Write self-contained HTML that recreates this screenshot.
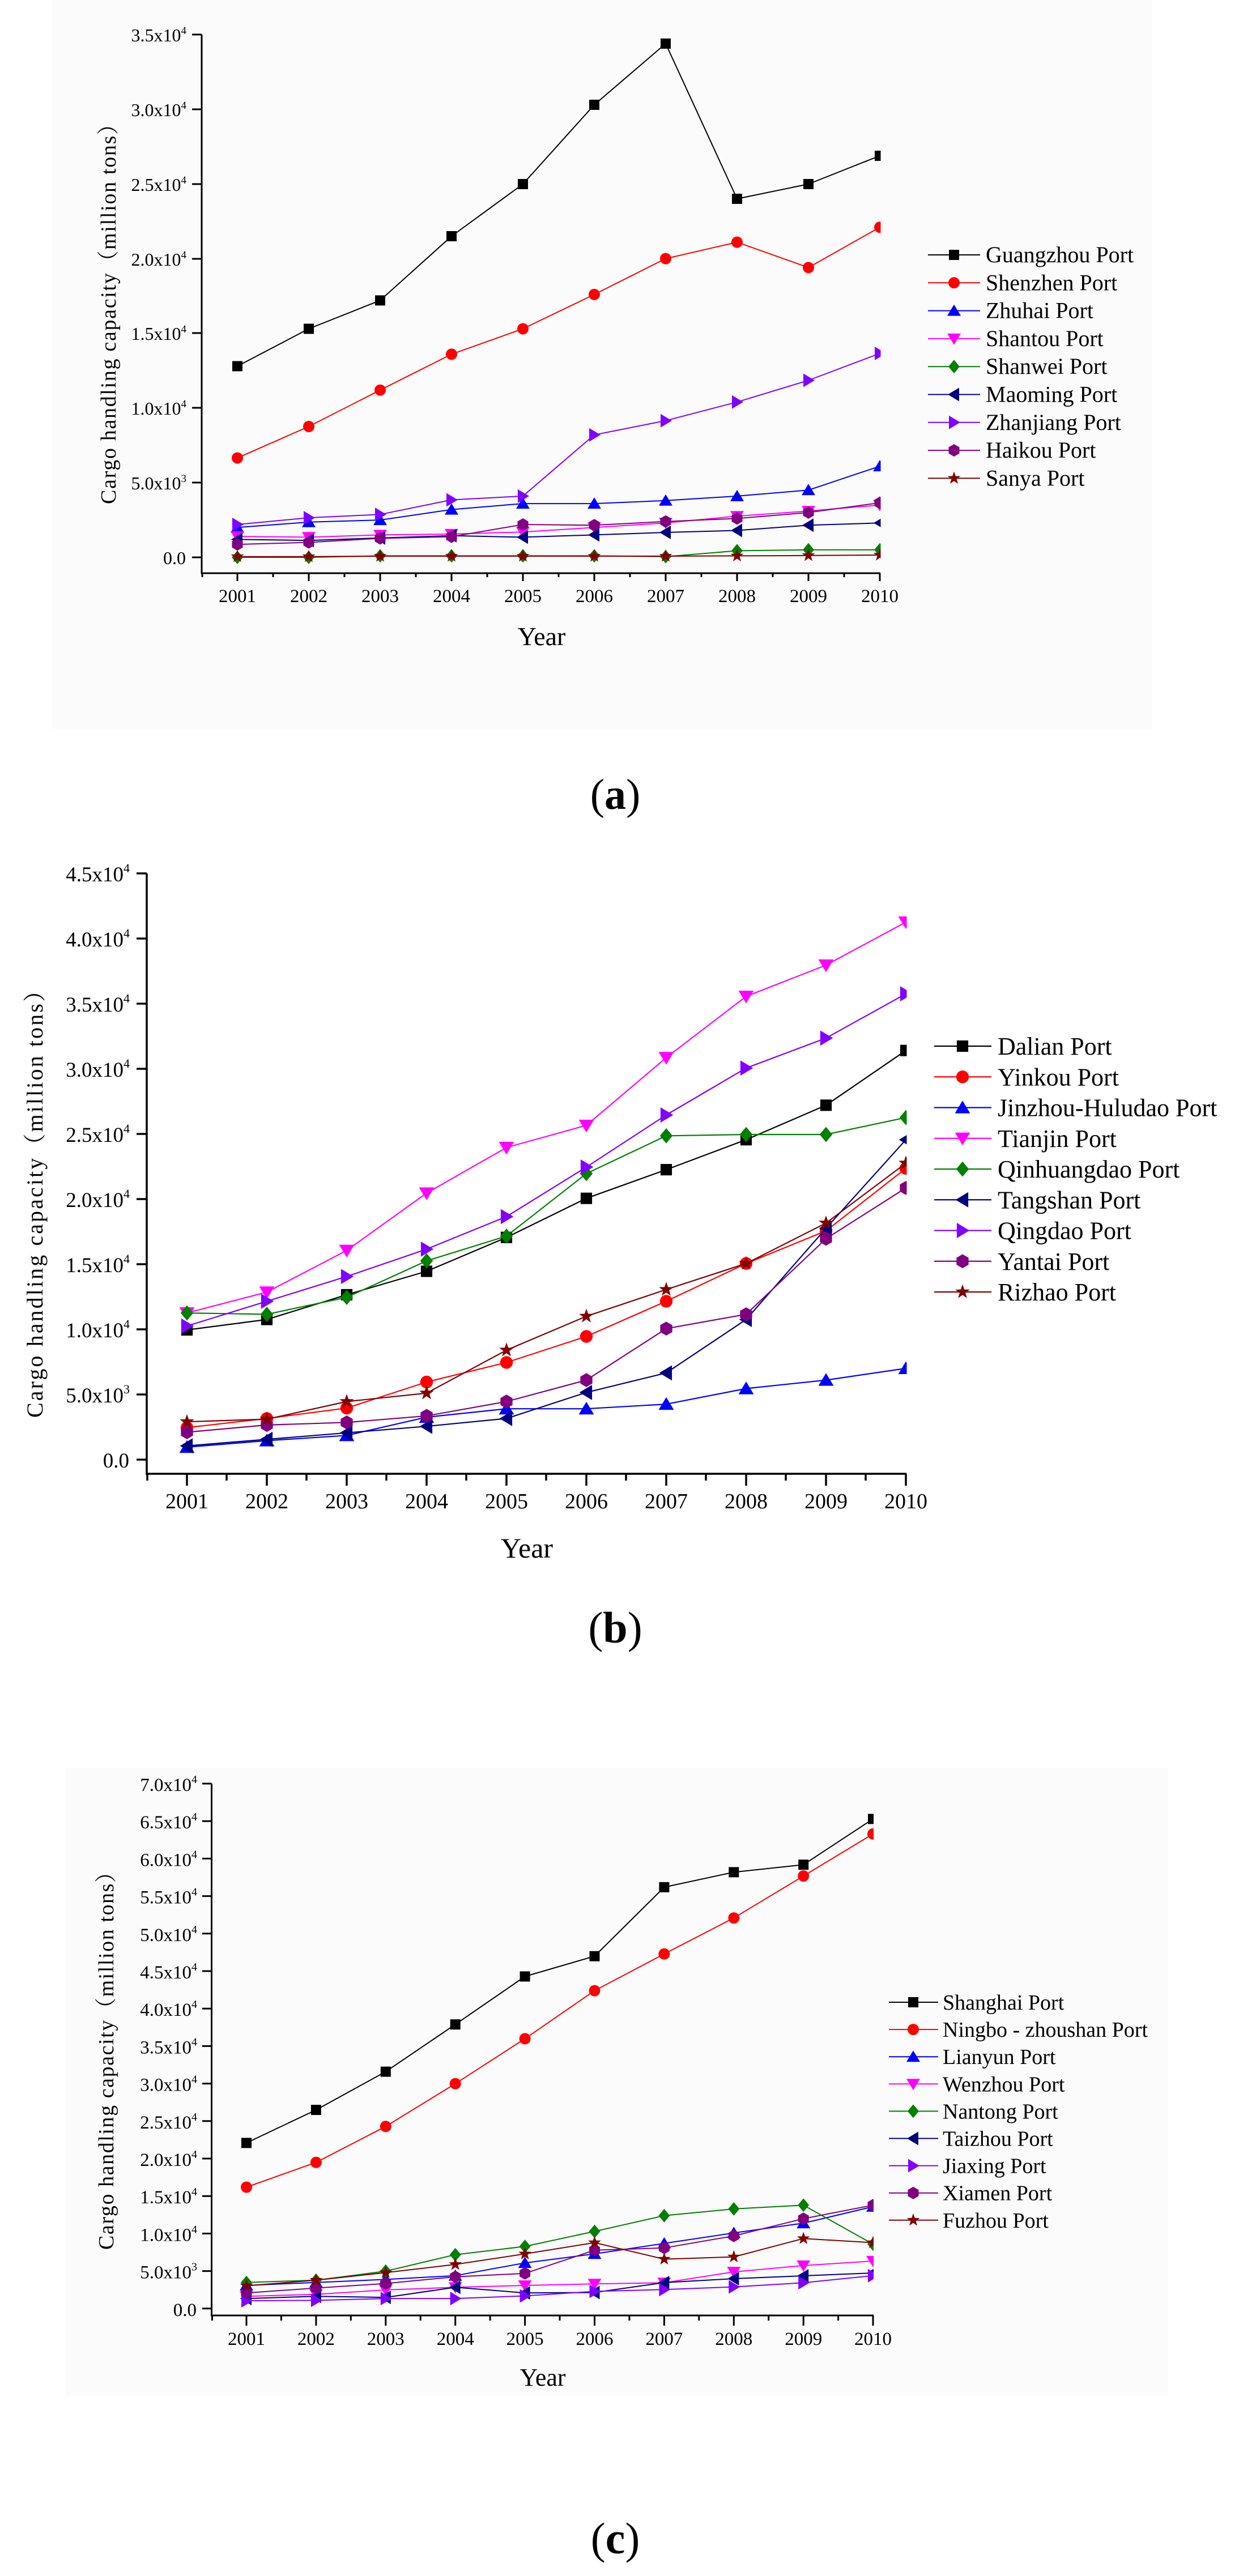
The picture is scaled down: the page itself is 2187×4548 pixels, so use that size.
<!DOCTYPE html>
<html>
<head>
<meta charset="utf-8">
<style>
html,body{margin:0;padding:0;background:#fff;}
svg{display:block;}
</style>
</head>
<body>
<svg xmlns="http://www.w3.org/2000/svg" xmlns:xlink="http://www.w3.org/1999/xlink" width="2187" height="4548" viewBox="0 0 2187 4548" font-family="'Liberation Serif','Noto Serif CJK SC',serif">
<defs>
<rect id="sq" x="-9" y="-9" width="18" height="18"/>
<circle id="ci" r="10"/>
<polygon id="tu" points="0,-11 12,9 -12,9"/>
<polygon id="td" points="0,11 12,-9 -12,-9"/>
<polygon id="di" points="0,-12 10,0 0,12 -10,0"/>
<polygon id="tl" points="-11,0 9,-12 9,12"/>
<polygon id="tr" points="11,0 -9,-12 -9,12"/>
<polygon id="hx" points="0,-11 9.5,-5.5 9.5,5.5 0,11 -9.5,5.5 -9.5,-5.5"/>
<polygon id="st" points="0,-12 2.82,-3.88 11.41,-3.71 4.57,1.48 7.05,9.71 0,4.8 -7.05,9.71 -4.57,1.48 -11.41,-3.71 -2.82,-3.88"/>
<g id="sqB" transform="scale(1.12)"><use xlink:href="#sq"/></g>
<g id="ciB" transform="scale(1.12)"><use xlink:href="#ci"/></g>
<g id="tuB" transform="scale(1.12)"><use xlink:href="#tu"/></g>
<g id="tdB" transform="scale(1.12)"><use xlink:href="#td"/></g>
<g id="diB" transform="scale(1.12)"><use xlink:href="#di"/></g>
<g id="tlB" transform="scale(1.12)"><use xlink:href="#tl"/></g>
<g id="trB" transform="scale(1.12)"><use xlink:href="#tr"/></g>
<g id="hxB" transform="scale(1.12)"><use xlink:href="#hx"/></g>
<g id="stB" transform="scale(1.12)"><use xlink:href="#st"/></g>
<clipPath id="ca"><rect x="300" y="0" width="1254.5" height="1012"/></clipPath>
<clipPath id="cb"><rect x="259" y="1500" width="1341.5" height="1102"/></clipPath>
<clipPath id="cc"><rect x="374" y="3100" width="1168" height="988"/></clipPath>
</defs>

<rect x="0" y="0" width="2187" height="4548" fill="#ffffff"/>
<rect x="91" y="0" width="1942" height="1288" fill="#fbfbfb"/>
<rect x="115" y="3122" width="1947" height="1107" fill="#fbfbfb"/>

<!-- ================= CHART (a) ================= -->
<g stroke="#000" stroke-width="3" fill="none">
<path d="M356 61 V1012 H1554"/>
<path d="M339 61H356M339 193H356M339 325H356M339 457H356M339 588H356M339 720H356M339 852H356M339 984H356"/>
<path d="M419 1012V1026M545 1012V1026M671 1012V1026M797 1012V1026M923 1012V1026M1049 1012V1026M1175 1012V1026M1301 1012V1026M1427 1012V1026M1553 1012V1026"/>
<path d="M357 1012V1019M482 1012V1019M608 1012V1019M734 1012V1019M860 1012V1019M986 1012V1019M1112 1012V1019M1238 1012V1019M1364 1012V1019M1490 1012V1019"/>
</g>
<g font-size="32" text-anchor="end" fill="#000">
<text x="329" y="73">3.5x10<tspan dy="-13" font-size="19">4</tspan></text>
<text x="329" y="205">3.0x10<tspan dy="-13" font-size="19">4</tspan></text>
<text x="329" y="337">2.5x10<tspan dy="-13" font-size="19">4</tspan></text>
<text x="329" y="469">2.0x10<tspan dy="-13" font-size="19">4</tspan></text>
<text x="329" y="600">1.5x10<tspan dy="-13" font-size="19">4</tspan></text>
<text x="329" y="732">1.0x10<tspan dy="-13" font-size="19">4</tspan></text>
<text x="329" y="864">5.0x10<tspan dy="-13" font-size="19">3</tspan></text>
<text x="328" y="996">0.0</text>
</g>
<g font-size="33" text-anchor="middle" fill="#000">
<text x="419" y="1063">2001</text><text x="545" y="1063">2002</text><text x="671" y="1063">2003</text><text x="797" y="1063">2004</text><text x="923" y="1063">2005</text><text x="1049" y="1063">2006</text><text x="1175" y="1063">2007</text><text x="1301" y="1063">2008</text><text x="1427" y="1063">2009</text><text x="1553" y="1063">2010</text>
</g>
<text x="956" y="1139" font-size="46" text-anchor="middle">Year</text>
<text transform="translate(204,545) rotate(-90)" text-anchor="middle" font-size="38" textLength="690" lengthAdjust="spacing">Cargo handling capacity（million tons）</text>
<text x="1086" y="1428" font-size="76" text-anchor="middle">(<tspan font-weight="bold">a</tspan>)</text>

<g clip-path="url(#ca)" fill="none" stroke-width="2" stroke-linejoin="round">
<polyline stroke="#000000" points="419,646.5 545,580.5 671,530.4 797,417 923,325 1049,185 1175,77 1301,351 1427,325 1553,275"/>
<g fill="#000000" stroke="none"><use xlink:href="#sq" x="419" y="646.5"/><use xlink:href="#sq" x="545" y="580.5"/><use xlink:href="#sq" x="671" y="530.4"/><use xlink:href="#sq" x="797" y="417"/><use xlink:href="#sq" x="923" y="325"/><use xlink:href="#sq" x="1049" y="185"/><use xlink:href="#sq" x="1175" y="77"/><use xlink:href="#sq" x="1301" y="351"/><use xlink:href="#sq" x="1427" y="325"/><use xlink:href="#sq" x="1553" y="275"/></g>
<polyline stroke="#ff0000" points="419,808.6 545,753 671,688.7 797,625.4 923,580.5 1049,519.9 1175,456.6 1301,427.6 1427,472.4 1553,401.2"/>
<g fill="#ff0000" stroke="none"><use xlink:href="#ci" x="419" y="808.6"/><use xlink:href="#ci" x="545" y="753"/><use xlink:href="#ci" x="671" y="688.7"/><use xlink:href="#ci" x="797" y="625.4"/><use xlink:href="#ci" x="923" y="580.5"/><use xlink:href="#ci" x="1049" y="519.9"/><use xlink:href="#ci" x="1175" y="456.6"/><use xlink:href="#ci" x="1301" y="427.6"/><use xlink:href="#ci" x="1427" y="472.4"/><use xlink:href="#ci" x="1553" y="401.2"/></g>
<polyline stroke="#0000ff" points="419,931.3 545,921.8 671,918.1 797,899.6 923,889.1 1049,889.1 1175,883.8 1301,875.9 1427,865.3 1553,823.1"/>
<g fill="#0000ff" stroke="none"><use xlink:href="#tu" x="419" y="931.3"/><use xlink:href="#tu" x="545" y="921.8"/><use xlink:href="#tu" x="671" y="918.1"/><use xlink:href="#tu" x="797" y="899.6"/><use xlink:href="#tu" x="923" y="889.1"/><use xlink:href="#tu" x="1049" y="889.1"/><use xlink:href="#tu" x="1175" y="883.8"/><use xlink:href="#tu" x="1301" y="875.9"/><use xlink:href="#tu" x="1427" y="865.3"/><use xlink:href="#tu" x="1553" y="823.1"/></g>
<polyline stroke="#ff00ff" points="419,947 545,948.4 671,944.4 797,942.9 923,939.2 1049,931.3 1175,923.3 1301,911.2 1427,902.3 1553,891.7"/>
<g fill="#ff00ff" stroke="none"><use xlink:href="#td" x="419" y="947"/><use xlink:href="#td" x="545" y="948.4"/><use xlink:href="#td" x="671" y="944.4"/><use xlink:href="#td" x="797" y="942.9"/><use xlink:href="#td" x="923" y="939.2"/><use xlink:href="#td" x="1049" y="931.3"/><use xlink:href="#td" x="1175" y="923.3"/><use xlink:href="#td" x="1301" y="911.2"/><use xlink:href="#td" x="1427" y="902.3"/><use xlink:href="#td" x="1553" y="891.7"/></g>
<polyline stroke="#008000" points="419,984 545,984 671,981.4 797,981.4 923,981.4 1049,981.4 1175,982.7 1301,972.4 1427,970.8 1553,970.8"/>
<g fill="#008000" stroke="none"><use xlink:href="#di" x="419" y="984"/><use xlink:href="#di" x="545" y="984"/><use xlink:href="#di" x="671" y="981.4"/><use xlink:href="#di" x="797" y="981.4"/><use xlink:href="#di" x="923" y="981.4"/><use xlink:href="#di" x="1049" y="981.4"/><use xlink:href="#di" x="1175" y="982.7"/><use xlink:href="#di" x="1301" y="972.4"/><use xlink:href="#di" x="1427" y="970.8"/><use xlink:href="#di" x="1553" y="970.8"/></g>
<polyline stroke="#000080" points="419,952.4 545,954.2 671,949.7 797,945.8 923,948.4 1049,944.4 1175,940 1301,936.5 1427,927.3 1553,923.3"/>
<g fill="#000080" stroke="none"><use xlink:href="#tl" x="419" y="952.4"/><use xlink:href="#tl" x="545" y="954.2"/><use xlink:href="#tl" x="671" y="949.7"/><use xlink:href="#tl" x="797" y="945.8"/><use xlink:href="#tl" x="923" y="948.4"/><use xlink:href="#tl" x="1049" y="944.4"/><use xlink:href="#tl" x="1175" y="940"/><use xlink:href="#tl" x="1301" y="936.5"/><use xlink:href="#tl" x="1427" y="927.3"/><use xlink:href="#tl" x="1553" y="923.3"/></g>
<polyline stroke="#8000ff" points="419,926 545,914.1 671,908.3 797,882.5 923,875.9 1049,767.8 1175,742.7 1301,709.8 1427,671.5 1553,624"/>
<g fill="#8000ff" stroke="none"><use xlink:href="#tr" x="419" y="926"/><use xlink:href="#tr" x="545" y="914.1"/><use xlink:href="#tr" x="671" y="908.3"/><use xlink:href="#tr" x="797" y="882.5"/><use xlink:href="#tr" x="923" y="875.9"/><use xlink:href="#tr" x="1049" y="767.8"/><use xlink:href="#tr" x="1175" y="742.7"/><use xlink:href="#tr" x="1301" y="709.8"/><use xlink:href="#tr" x="1427" y="671.5"/><use xlink:href="#tr" x="1553" y="624"/></g>
<polyline stroke="#800080" points="419,961.1 545,957.6 671,950.5 797,947.6 923,926 1049,927.3 1175,920.7 1301,915.4 1427,904.9 1553,887.7"/>
<g fill="#800080" stroke="none"><use xlink:href="#hx" x="419" y="961.1"/><use xlink:href="#hx" x="545" y="957.6"/><use xlink:href="#hx" x="671" y="950.5"/><use xlink:href="#hx" x="797" y="947.6"/><use xlink:href="#hx" x="923" y="926"/><use xlink:href="#hx" x="1049" y="927.3"/><use xlink:href="#hx" x="1175" y="920.7"/><use xlink:href="#hx" x="1301" y="915.4"/><use xlink:href="#hx" x="1427" y="904.9"/><use xlink:href="#hx" x="1553" y="887.7"/></g>
<polyline stroke="#800000" points="419,982.7 545,982.7 671,981.9 797,981.9 923,981.9 1049,981.9 1175,981.9 1301,981.4 1427,980.8 1553,980"/>
<g fill="#800000" stroke="none"><use xlink:href="#st" x="419" y="982.7"/><use xlink:href="#st" x="545" y="982.7"/><use xlink:href="#st" x="671" y="981.9"/><use xlink:href="#st" x="797" y="981.9"/><use xlink:href="#st" x="923" y="981.9"/><use xlink:href="#st" x="1049" y="981.9"/><use xlink:href="#st" x="1175" y="981.9"/><use xlink:href="#st" x="1301" y="981.4"/><use xlink:href="#st" x="1427" y="980.8"/><use xlink:href="#st" x="1553" y="980"/></g>
</g>

<!-- legend (a) -->
<g stroke-width="2">
<line x1="1638" x2="1730" y1="450" y2="450" stroke="#000000"/><use xlink:href="#sq" x="1684" y="450" fill="#000000"/>
<line x1="1638" x2="1730" y1="499.3" y2="499.3" stroke="#ff0000"/><use xlink:href="#ci" x="1684" y="499.3" fill="#ff0000"/>
<line x1="1638" x2="1730" y1="548.6" y2="548.6" stroke="#0000ff"/><use xlink:href="#tu" x="1684" y="548.6" fill="#0000ff"/>
<line x1="1638" x2="1730" y1="597.9" y2="597.9" stroke="#ff00ff"/><use xlink:href="#td" x="1684" y="597.9" fill="#ff00ff"/>
<line x1="1638" x2="1730" y1="647.2" y2="647.2" stroke="#008000"/><use xlink:href="#di" x="1684" y="647.2" fill="#008000"/>
<line x1="1638" x2="1730" y1="696.5" y2="696.5" stroke="#000080"/><use xlink:href="#tl" x="1684" y="696.5" fill="#000080"/>
<line x1="1638" x2="1730" y1="745.8" y2="745.8" stroke="#8000ff"/><use xlink:href="#tr" x="1684" y="745.8" fill="#8000ff"/>
<line x1="1638" x2="1730" y1="795.1" y2="795.1" stroke="#800080"/><use xlink:href="#hx" x="1684" y="795.1" fill="#800080"/>
<line x1="1638" x2="1730" y1="844.4" y2="844.4" stroke="#800000"/><use xlink:href="#st" x="1684" y="844.4" fill="#800000"/>
</g>
<g font-size="40" fill="#000">
<text x="1740" y="463">Guangzhou Port</text>
<text x="1740" y="512.3">Shenzhen Port</text>
<text x="1740" y="561.6">Zhuhai Port</text>
<text x="1740" y="610.9">Shantou Port</text>
<text x="1740" y="660.2">Shanwei Port</text>
<text x="1740" y="709.5">Maoming Port</text>
<text x="1740" y="758.8">Zhanjiang Port</text>
<text x="1740" y="808.1">Haikou Port</text>
<text x="1740" y="857.4">Sanya Port</text>
</g>

<!-- ================= CHART (b) ================= -->
<g stroke="#000" stroke-width="3.5" fill="none">
<path d="M259 1542 V2602 H1600"/>
<path d="M241 1542H259M241 1657H259M241 1772H259M241 1887H259M241 2002H259M241 2117H259M241 2232H259M241 2347H259M241 2462H259M241 2577H259"/>
<path d="M330 2602V2623M471 2602V2623M612 2602V2623M753 2602V2623M894 2602V2623M1035 2602V2623M1176 2602V2623M1317 2602V2623M1458 2602V2623M1599 2602V2623"/>
<path d="M260 2602V2614M400 2602V2614M541 2602V2614M682 2602V2614M823 2602V2614M964 2602V2614M1105 2602V2614M1246 2602V2614M1387 2602V2614M1528 2602V2614"/>
</g>
<g font-size="37" text-anchor="end" fill="#000">
<text x="229" y="1556">4.5x10<tspan dy="-16" font-size="22">4</tspan></text>
<text x="229" y="1671">4.0x10<tspan dy="-16" font-size="22">4</tspan></text>
<text x="229" y="1786">3.5x10<tspan dy="-16" font-size="22">4</tspan></text>
<text x="229" y="1901">3.0x10<tspan dy="-16" font-size="22">4</tspan></text>
<text x="229" y="2016">2.5x10<tspan dy="-16" font-size="22">4</tspan></text>
<text x="229" y="2131">2.0x10<tspan dy="-16" font-size="22">4</tspan></text>
<text x="229" y="2246">1.5x10<tspan dy="-16" font-size="22">4</tspan></text>
<text x="229" y="2361">1.0x10<tspan dy="-16" font-size="22">4</tspan></text>
<text x="229" y="2476">5.0x10<tspan dy="-16" font-size="22">3</tspan></text>
<text x="228" y="2591">0.0</text>
</g>
<g font-size="38" text-anchor="middle" fill="#000">
<text x="330" y="2663">2001</text><text x="471" y="2663">2002</text><text x="612" y="2663">2003</text><text x="753" y="2663">2004</text><text x="894" y="2663">2005</text><text x="1035" y="2663">2006</text><text x="1176" y="2663">2007</text><text x="1317" y="2663">2008</text><text x="1458" y="2663">2009</text><text x="1599" y="2663">2010</text>
</g>
<text x="930" y="2750" font-size="50" text-anchor="middle">Year</text>
<text transform="translate(75,2116) rotate(-90)" text-anchor="middle" font-size="40" textLength="774" lengthAdjust="spacing">Cargo handling capacity（million tons）</text>
<text x="1086" y="2900" font-size="78" text-anchor="middle">(<tspan font-weight="bold">b</tspan>)</text>

<g clip-path="url(#cb)" fill="none" stroke-width="2.2" stroke-linejoin="round">
<polyline stroke="#000000" points="330,2348 471,2329.6 612,2285.9 753,2244.5 894,2184.7 1035,2115.7 1176,2065.1 1317,2012.2 1458,1951.3 1599,1854.7"/>
<g fill="#000000" stroke="none"><use xlink:href="#sqB" x="330" y="2348"/><use xlink:href="#sqB" x="471" y="2329.6"/><use xlink:href="#sqB" x="612" y="2285.9"/><use xlink:href="#sqB" x="753" y="2244.5"/><use xlink:href="#sqB" x="894" y="2184.7"/><use xlink:href="#sqB" x="1035" y="2115.7"/><use xlink:href="#sqB" x="1176" y="2065.1"/><use xlink:href="#sqB" x="1317" y="2012.2"/><use xlink:href="#sqB" x="1458" y="1951.3"/><use xlink:href="#sqB" x="1599" y="1854.7"/></g>
<polyline stroke="#ff0000" points="330,2520.5 471,2504.4 612,2486 753,2440 894,2405.5 1035,2359.5 1176,2297.4 1317,2230.7 1458,2173.2 1599,2062.8"/>
<g fill="#ff0000" stroke="none"><use xlink:href="#ciB" x="330" y="2520.5"/><use xlink:href="#ciB" x="471" y="2504.4"/><use xlink:href="#ciB" x="612" y="2486"/><use xlink:href="#ciB" x="753" y="2440"/><use xlink:href="#ciB" x="894" y="2405.5"/><use xlink:href="#ciB" x="1035" y="2359.5"/><use xlink:href="#ciB" x="1176" y="2297.4"/><use xlink:href="#ciB" x="1317" y="2230.7"/><use xlink:href="#ciB" x="1458" y="2173.2"/><use xlink:href="#ciB" x="1599" y="2062.8"/></g>
<polyline stroke="#0000ff" points="330,2555 471,2543.5 612,2534.3 753,2502.1 894,2487.2 1035,2487.2 1176,2479.1 1317,2451.5 1458,2436.6 1599,2415.9"/>
<g fill="#0000ff" stroke="none"><use xlink:href="#tuB" x="330" y="2555"/><use xlink:href="#tuB" x="471" y="2543.5"/><use xlink:href="#tuB" x="612" y="2534.3"/><use xlink:href="#tuB" x="753" y="2502.1"/><use xlink:href="#tuB" x="894" y="2487.2"/><use xlink:href="#tuB" x="1035" y="2487.2"/><use xlink:href="#tuB" x="1176" y="2479.1"/><use xlink:href="#tuB" x="1317" y="2451.5"/><use xlink:href="#tuB" x="1458" y="2436.6"/><use xlink:href="#tuB" x="1599" y="2415.9"/></g>
<polyline stroke="#ff00ff" points="330,2318.1 471,2281.3 612,2207.7 753,2106.5 894,2026 1035,1986.9 1176,1867.3 1317,1759.2 1458,1704 1599,1628.1"/>
<g fill="#ff00ff" stroke="none"><use xlink:href="#tdB" x="330" y="2318.1"/><use xlink:href="#tdB" x="471" y="2281.3"/><use xlink:href="#tdB" x="612" y="2207.7"/><use xlink:href="#tdB" x="753" y="2106.5"/><use xlink:href="#tdB" x="894" y="2026"/><use xlink:href="#tdB" x="1035" y="1986.9"/><use xlink:href="#tdB" x="1176" y="1867.3"/><use xlink:href="#tdB" x="1317" y="1759.2"/><use xlink:href="#tdB" x="1458" y="1704"/><use xlink:href="#tdB" x="1599" y="1628.1"/></g>
<polyline stroke="#008000" points="330,2318.1 471,2320.4 612,2290.5 753,2226.1 894,2182.4 1035,2072 1176,2005.3 1317,2003 1458,2003 1599,1973.1"/>
<g fill="#008000" stroke="none"><use xlink:href="#diB" x="330" y="2318.1"/><use xlink:href="#diB" x="471" y="2320.4"/><use xlink:href="#diB" x="612" y="2290.5"/><use xlink:href="#diB" x="753" y="2226.1"/><use xlink:href="#diB" x="894" y="2182.4"/><use xlink:href="#diB" x="1035" y="2072"/><use xlink:href="#diB" x="1176" y="2005.3"/><use xlink:href="#diB" x="1317" y="2003"/><use xlink:href="#diB" x="1458" y="2003"/><use xlink:href="#diB" x="1599" y="1973.1"/></g>
<polyline stroke="#000080" points="330,2552.7 471,2541.2 612,2529.7 753,2518.2 894,2504.4 1035,2458.4 1176,2423.9 1317,2329.6 1458,2168.6 1599,2012.2"/>
<g fill="#000080" stroke="none"><use xlink:href="#tlB" x="330" y="2552.7"/><use xlink:href="#tlB" x="471" y="2541.2"/><use xlink:href="#tlB" x="612" y="2529.7"/><use xlink:href="#tlB" x="753" y="2518.2"/><use xlink:href="#tlB" x="894" y="2504.4"/><use xlink:href="#tlB" x="1035" y="2458.4"/><use xlink:href="#tlB" x="1176" y="2423.9"/><use xlink:href="#tlB" x="1317" y="2329.6"/><use xlink:href="#tlB" x="1458" y="2168.6"/><use xlink:href="#tlB" x="1599" y="2012.2"/></g>
<polyline stroke="#8000ff" points="330,2341.1 471,2297.4 612,2253.7 753,2205.4 894,2147.9 1035,2060.5 1176,1968.5 1317,1885.7 1458,1832.8 1599,1754.6"/>
<g fill="#8000ff" stroke="none"><use xlink:href="#trB" x="330" y="2341.1"/><use xlink:href="#trB" x="471" y="2297.4"/><use xlink:href="#trB" x="612" y="2253.7"/><use xlink:href="#trB" x="753" y="2205.4"/><use xlink:href="#trB" x="894" y="2147.9"/><use xlink:href="#trB" x="1035" y="2060.5"/><use xlink:href="#trB" x="1176" y="1968.5"/><use xlink:href="#trB" x="1317" y="1885.7"/><use xlink:href="#trB" x="1458" y="1832.8"/><use xlink:href="#trB" x="1599" y="1754.6"/></g>
<polyline stroke="#800080" points="330,2528.6 471,2515.9 612,2511.3 753,2499.8 894,2474.5 1035,2436.6 1176,2345.7 1317,2320.4 1458,2187 1599,2097.3"/>
<g fill="#800080" stroke="none"><use xlink:href="#hxB" x="330" y="2528.6"/><use xlink:href="#hxB" x="471" y="2515.9"/><use xlink:href="#hxB" x="612" y="2511.3"/><use xlink:href="#hxB" x="753" y="2499.8"/><use xlink:href="#hxB" x="894" y="2474.5"/><use xlink:href="#hxB" x="1035" y="2436.6"/><use xlink:href="#hxB" x="1176" y="2345.7"/><use xlink:href="#hxB" x="1317" y="2320.4"/><use xlink:href="#hxB" x="1458" y="2187"/><use xlink:href="#hxB" x="1599" y="2097.3"/></g>
<polyline stroke="#800000" points="330,2510.2 471,2505.6 612,2474.5 753,2459.6 894,2383.7 1035,2323.9 1176,2276.7 1317,2230.7 1458,2159.4 1599,2053.6"/>
<g fill="#800000" stroke="none"><use xlink:href="#stB" x="330" y="2510.2"/><use xlink:href="#stB" x="471" y="2505.6"/><use xlink:href="#stB" x="612" y="2474.5"/><use xlink:href="#stB" x="753" y="2459.6"/><use xlink:href="#stB" x="894" y="2383.7"/><use xlink:href="#stB" x="1035" y="2323.9"/><use xlink:href="#stB" x="1176" y="2276.7"/><use xlink:href="#stB" x="1317" y="2230.7"/><use xlink:href="#stB" x="1458" y="2159.4"/><use xlink:href="#stB" x="1599" y="2053.6"/></g>
</g>

<!-- legend (b) -->
<g stroke-width="2.2">
<line x1="1649" x2="1750" y1="1847" y2="1847" stroke="#000000"/><use xlink:href="#sqB" x="1699" y="1847" fill="#000000"/>
<line x1="1649" x2="1750" y1="1901.25" y2="1901.25" stroke="#ff0000"/><use xlink:href="#ciB" x="1699" y="1901.25" fill="#ff0000"/>
<line x1="1649" x2="1750" y1="1955.5" y2="1955.5" stroke="#0000ff"/><use xlink:href="#tuB" x="1699" y="1955.5" fill="#0000ff"/>
<line x1="1649" x2="1750" y1="2009.75" y2="2009.75" stroke="#ff00ff"/><use xlink:href="#tdB" x="1699" y="2009.75" fill="#ff00ff"/>
<line x1="1649" x2="1750" y1="2064" y2="2064" stroke="#008000"/><use xlink:href="#diB" x="1699" y="2064" fill="#008000"/>
<line x1="1649" x2="1750" y1="2118.25" y2="2118.25" stroke="#000080"/><use xlink:href="#tlB" x="1699" y="2118.25" fill="#000080"/>
<line x1="1649" x2="1750" y1="2172.5" y2="2172.5" stroke="#8000ff"/><use xlink:href="#trB" x="1699" y="2172.5" fill="#8000ff"/>
<line x1="1649" x2="1750" y1="2226.75" y2="2226.75" stroke="#800080"/><use xlink:href="#hxB" x="1699" y="2226.75" fill="#800080"/>
<line x1="1649" x2="1750" y1="2281" y2="2281" stroke="#800000"/><use xlink:href="#stB" x="1699" y="2281" fill="#800000"/>
</g>
<g font-size="44" fill="#000">
<text x="1761" y="1862">Dalian Port</text>
<text x="1761" y="1916.25">Yinkou Port</text>
<text x="1761" y="1970.5">Jinzhou-Huludao Port</text>
<text x="1761" y="2024.75">Tianjin Port</text>
<text x="1761" y="2079">Qinhuangdao Port</text>
<text x="1761" y="2133.25">Tangshan Port</text>
<text x="1761" y="2187.5">Qingdao Port</text>
<text x="1761" y="2241.75">Yantai Port</text>
<text x="1761" y="2296">Rizhao Port</text>
</g>

<!-- ================= CHART (c) ================= -->
<g stroke="#000" stroke-width="3" fill="none">
<path d="M373.5 3149 V4088 H1542"/>
<path d="M357 3149H373.5M357 3215.2H373.5M357 3281.4H373.5M357 3347.6H373.5M357 3413.8H373.5M357 3480H373.5M357 3546.2H373.5M357 3612.4H373.5M357 3678.6H373.5M357 3744.8H373.5M357 3811H373.5M357 3877.2H373.5M357 3943.4H373.5M357 4009.6H373.5M357 4075.8H373.5"/>
<path d="M435 4088V4106M557.9 4088V4106M680.8 4088V4106M803.7 4088V4106M926.6 4088V4106M1049.5 4088V4106M1172.4 4088V4106M1295.3 4088V4106M1418.2 4088V4106M1541 4088V4106"/>
<path d="M374.5 4088V4097M496.4 4088V4097M619.3 4088V4097M742.2 4088V4097M865.1 4088V4097M988 4088V4097M1110.9 4088V4097M1233.8 4088V4097M1356.7 4088V4097M1479.6 4088V4097"/>
</g>
<g font-size="33" text-anchor="end" fill="#000">
<text x="348" y="3162">7.0x10<tspan dy="-14" font-size="20">4</tspan></text>
<text x="348" y="3228.2">6.5x10<tspan dy="-14" font-size="20">4</tspan></text>
<text x="348" y="3294.4">6.0x10<tspan dy="-14" font-size="20">4</tspan></text>
<text x="348" y="3360.6">5.5x10<tspan dy="-14" font-size="20">4</tspan></text>
<text x="348" y="3426.8">5.0x10<tspan dy="-14" font-size="20">4</tspan></text>
<text x="348" y="3493">4.5x10<tspan dy="-14" font-size="20">4</tspan></text>
<text x="348" y="3559.2">4.0x10<tspan dy="-14" font-size="20">4</tspan></text>
<text x="348" y="3625.4">3.5x10<tspan dy="-14" font-size="20">4</tspan></text>
<text x="348" y="3691.6">3.0x10<tspan dy="-14" font-size="20">4</tspan></text>
<text x="348" y="3757.8">2.5x10<tspan dy="-14" font-size="20">4</tspan></text>
<text x="348" y="3824">2.0x10<tspan dy="-14" font-size="20">4</tspan></text>
<text x="348" y="3890.2">1.5x10<tspan dy="-14" font-size="20">4</tspan></text>
<text x="348" y="3956.4">1.0x10<tspan dy="-14" font-size="20">4</tspan></text>
<text x="348" y="4022.6">5.0x10<tspan dy="-14" font-size="20">3</tspan></text>
<text x="347" y="4088.8">0.0</text>
</g>
<g font-size="33" text-anchor="middle" fill="#000">
<text x="435" y="4140">2001</text><text x="557.9" y="4140">2002</text><text x="680.8" y="4140">2003</text><text x="803.7" y="4140">2004</text><text x="926.6" y="4140">2005</text><text x="1049.5" y="4140">2006</text><text x="1172.4" y="4140">2007</text><text x="1295.3" y="4140">2008</text><text x="1418.2" y="4140">2009</text><text x="1541" y="4140">2010</text>
</g>
<text x="958" y="4212" font-size="44" text-anchor="middle">Year</text>
<text transform="translate(200,3629) rotate(-90)" text-anchor="middle" font-size="38" textLength="686" lengthAdjust="spacing">Cargo handling capacity（million tons）</text>
<text x="1086" y="4508" font-size="78" text-anchor="middle">(<tspan font-weight="bold">c</tspan>)</text>

<g clip-path="url(#cc)" fill="none" stroke-width="2" stroke-linejoin="round">
<polyline stroke="#000000" points="435,3783.4 557.9,3725.1 680.8,3657.6 803.7,3574.2 926.6,3489.5 1049.5,3453.7 1172.4,3331.9 1295.3,3305.4 1418.2,3292.2 1541,3211.4"/>
<g fill="#000000" stroke="none"><use xlink:href="#sq" x="435" y="3783.4"/><use xlink:href="#sq" x="557.9" y="3725.1"/><use xlink:href="#sq" x="680.8" y="3657.6"/><use xlink:href="#sq" x="803.7" y="3574.2"/><use xlink:href="#sq" x="926.6" y="3489.5"/><use xlink:href="#sq" x="1049.5" y="3453.7"/><use xlink:href="#sq" x="1172.4" y="3331.9"/><use xlink:href="#sq" x="1295.3" y="3305.4"/><use xlink:href="#sq" x="1418.2" y="3292.2"/><use xlink:href="#sq" x="1541" y="3211.4"/></g>
<polyline stroke="#ff0000" points="435,3861.5 557.9,3817.8 680.8,3754.3 803.7,3678.8 926.6,3599.4 1049.5,3514.6 1172.4,3449.8 1295.3,3386.2 1418.2,3312.1 1541,3237.9"/>
<g fill="#ff0000" stroke="none"><use xlink:href="#ci" x="435" y="3861.5"/><use xlink:href="#ci" x="557.9" y="3817.8"/><use xlink:href="#ci" x="680.8" y="3754.3"/><use xlink:href="#ci" x="803.7" y="3678.8"/><use xlink:href="#ci" x="926.6" y="3599.4"/><use xlink:href="#ci" x="1049.5" y="3514.6"/><use xlink:href="#ci" x="1172.4" y="3449.8"/><use xlink:href="#ci" x="1295.3" y="3386.2"/><use xlink:href="#ci" x="1418.2" y="3312.1"/><use xlink:href="#ci" x="1541" y="3237.9"/></g>
<polyline stroke="#0000ff" points="435,4035 557.9,4029.7 680.8,4024.4 803.7,4017.7 926.6,3995.2 1049.5,3979.3 1172.4,3960.8 1295.3,3942.3 1418.2,3925.1 1541,3895.9"/>
<g fill="#0000ff" stroke="none"><use xlink:href="#tu" x="435" y="4035"/><use xlink:href="#tu" x="557.9" y="4029.7"/><use xlink:href="#tu" x="680.8" y="4024.4"/><use xlink:href="#tu" x="803.7" y="4017.7"/><use xlink:href="#tu" x="926.6" y="3995.2"/><use xlink:href="#tu" x="1049.5" y="3979.3"/><use xlink:href="#tu" x="1172.4" y="3960.8"/><use xlink:href="#tu" x="1295.3" y="3942.3"/><use xlink:href="#tu" x="1418.2" y="3925.1"/><use xlink:href="#tu" x="1541" y="3895.9"/></g>
<polyline stroke="#ff00ff" points="435,4054.2 557.9,4050.8 680.8,4042.9 803.7,4038.3 926.6,4035 1049.5,4032.3 1172.4,4030.3 1295.3,4011.1 1418.2,3999.9 1541,3991.9"/>
<g fill="#ff00ff" stroke="none"><use xlink:href="#td" x="435" y="4054.2"/><use xlink:href="#td" x="557.9" y="4050.8"/><use xlink:href="#td" x="680.8" y="4042.9"/><use xlink:href="#td" x="803.7" y="4038.3"/><use xlink:href="#td" x="926.6" y="4035"/><use xlink:href="#td" x="1049.5" y="4032.3"/><use xlink:href="#td" x="1172.4" y="4030.3"/><use xlink:href="#td" x="1295.3" y="4011.1"/><use xlink:href="#td" x="1418.2" y="3999.9"/><use xlink:href="#td" x="1541" y="3991.9"/></g>
<polyline stroke="#008000" points="435,4029.7 557.9,4025.7 680.8,4009.8 803.7,3980.7 926.6,3966.1 1049.5,3939.6 1172.4,3911.8 1295.3,3899.9 1418.2,3893.3 1541,3962.1"/>
<g fill="#008000" stroke="none"><use xlink:href="#di" x="435" y="4029.7"/><use xlink:href="#di" x="557.9" y="4025.7"/><use xlink:href="#di" x="680.8" y="4009.8"/><use xlink:href="#di" x="803.7" y="3980.7"/><use xlink:href="#di" x="926.6" y="3966.1"/><use xlink:href="#di" x="1049.5" y="3939.6"/><use xlink:href="#di" x="1172.4" y="3911.8"/><use xlink:href="#di" x="1295.3" y="3899.9"/><use xlink:href="#di" x="1418.2" y="3893.3"/><use xlink:href="#di" x="1541" y="3962.1"/></g>
<polyline stroke="#000080" points="435,4058.1 557.9,4054.2 680.8,4056.1 803.7,4038.3 926.6,4048.2 1049.5,4047.5 1172.4,4030 1295.3,4023 1418.2,4018 1541,4013"/>
<g fill="#000080" stroke="none"><use xlink:href="#tl" x="435" y="4058.1"/><use xlink:href="#tl" x="557.9" y="4054.2"/><use xlink:href="#tl" x="680.8" y="4056.1"/><use xlink:href="#tl" x="803.7" y="4038.3"/><use xlink:href="#tl" x="926.6" y="4048.2"/><use xlink:href="#tl" x="1049.5" y="4047.5"/><use xlink:href="#tl" x="1172.4" y="4030"/><use xlink:href="#tl" x="1295.3" y="4023"/><use xlink:href="#tl" x="1418.2" y="4018"/><use xlink:href="#tl" x="1541" y="4013"/></g>
<polyline stroke="#8000ff" points="435,4062.1 557.9,4061.4 680.8,4058.1 803.7,4058.1 926.6,4053.5 1049.5,4045.5 1172.4,4042.2 1295.3,4037.6 1418.2,4030.3 1541,4017.7"/>
<g fill="#8000ff" stroke="none"><use xlink:href="#tr" x="435" y="4062.1"/><use xlink:href="#tr" x="557.9" y="4061.4"/><use xlink:href="#tr" x="680.8" y="4058.1"/><use xlink:href="#tr" x="803.7" y="4058.1"/><use xlink:href="#tr" x="926.6" y="4053.5"/><use xlink:href="#tr" x="1049.5" y="4045.5"/><use xlink:href="#tr" x="1172.4" y="4042.2"/><use xlink:href="#tr" x="1295.3" y="4037.6"/><use xlink:href="#tr" x="1418.2" y="4030.3"/><use xlink:href="#tr" x="1541" y="4017.7"/></g>
<polyline stroke="#800080" points="435,4048.2 557.9,4039.6 680.8,4031.6 803.7,4019.7 926.6,4013.8 1049.5,3972.7 1172.4,3968.8 1295.3,3947.6 1418.2,3917.1 1541,3893.3"/>
<g fill="#800080" stroke="none"><use xlink:href="#hx" x="435" y="4048.2"/><use xlink:href="#hx" x="557.9" y="4039.6"/><use xlink:href="#hx" x="680.8" y="4031.6"/><use xlink:href="#hx" x="803.7" y="4019.7"/><use xlink:href="#hx" x="926.6" y="4013.8"/><use xlink:href="#hx" x="1049.5" y="3972.7"/><use xlink:href="#hx" x="1172.4" y="3968.8"/><use xlink:href="#hx" x="1295.3" y="3947.6"/><use xlink:href="#hx" x="1418.2" y="3917.1"/><use xlink:href="#hx" x="1541" y="3893.3"/></g>
<polyline stroke="#800000" points="435,4035.6 557.9,4025.7 680.8,4012.4 803.7,3997.9 926.6,3979.3 1049.5,3959.5 1172.4,3988.6 1295.3,3984.6 1418.2,3952.2 1541,3959.5"/>
<g fill="#800000" stroke="none"><use xlink:href="#st" x="435" y="4035.6"/><use xlink:href="#st" x="557.9" y="4025.7"/><use xlink:href="#st" x="680.8" y="4012.4"/><use xlink:href="#st" x="803.7" y="3997.9"/><use xlink:href="#st" x="926.6" y="3979.3"/><use xlink:href="#st" x="1049.5" y="3959.5"/><use xlink:href="#st" x="1172.4" y="3988.6"/><use xlink:href="#st" x="1295.3" y="3984.6"/><use xlink:href="#st" x="1418.2" y="3952.2"/><use xlink:href="#st" x="1541" y="3959.5"/></g>
</g>

<!-- legend (c) -->
<g stroke-width="2">
<line x1="1569" x2="1656" y1="3535" y2="3535" stroke="#000000"/><use xlink:href="#sq" x="1612" y="3535" fill="#000000"/>
<line x1="1569" x2="1656" y1="3583.1" y2="3583.1" stroke="#ff0000"/><use xlink:href="#ci" x="1612" y="3583.1" fill="#ff0000"/>
<line x1="1569" x2="1656" y1="3631.2" y2="3631.2" stroke="#0000ff"/><use xlink:href="#tu" x="1612" y="3631.2" fill="#0000ff"/>
<line x1="1569" x2="1656" y1="3679.3" y2="3679.3" stroke="#ff00ff"/><use xlink:href="#td" x="1612" y="3679.3" fill="#ff00ff"/>
<line x1="1569" x2="1656" y1="3727.4" y2="3727.4" stroke="#008000"/><use xlink:href="#di" x="1612" y="3727.4" fill="#008000"/>
<line x1="1569" x2="1656" y1="3775.5" y2="3775.5" stroke="#000080"/><use xlink:href="#tl" x="1612" y="3775.5" fill="#000080"/>
<line x1="1569" x2="1656" y1="3823.6" y2="3823.6" stroke="#8000ff"/><use xlink:href="#tr" x="1612" y="3823.6" fill="#8000ff"/>
<line x1="1569" x2="1656" y1="3871.7" y2="3871.7" stroke="#800080"/><use xlink:href="#hx" x="1612" y="3871.7" fill="#800080"/>
<line x1="1569" x2="1656" y1="3919.8" y2="3919.8" stroke="#800000"/><use xlink:href="#st" x="1612" y="3919.8" fill="#800000"/>
</g>
<g font-size="38" fill="#000">
<text x="1664" y="3548">Shanghai Port</text>
<text x="1664" y="3596.1">Ningbo - zhoushan Port</text>
<text x="1664" y="3644.2">Lianyun Port</text>
<text x="1664" y="3692.3">Wenzhou Port</text>
<text x="1664" y="3740.4">Nantong Port</text>
<text x="1664" y="3788.5">Taizhou Port</text>
<text x="1664" y="3836.6">Jiaxing Port</text>
<text x="1664" y="3884.7">Xiamen Port</text>
<text x="1664" y="3932.8">Fuzhou Port</text>
</g>
</svg>
</body>
</html>
